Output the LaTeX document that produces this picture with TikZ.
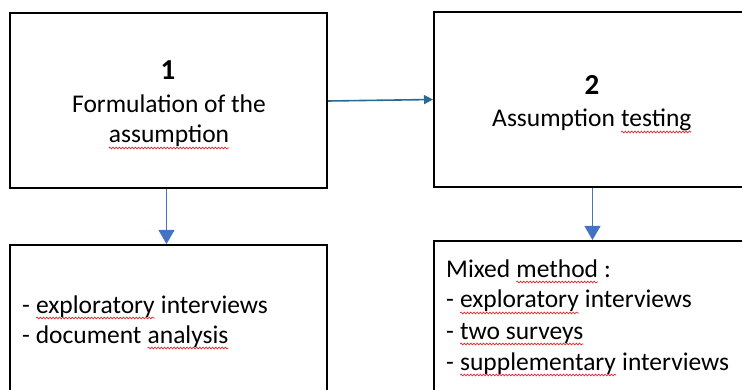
\documentclass[tikz,border=0pt]{standalone}
\usepackage{fontspec}
\setmainfont{Carlito}
\usetikzlibrary{arrows.meta,decorations.pathmorphing}
\definecolor{arrA}{HTML}{2A6A8C}
\definecolor{arrB}{HTML}{4472C4}
\definecolor{sqred}{HTML}{E8262B}
\newcommand\sq[1]{\tikz[baseline=(sqw.base)]{\node[inner sep=0pt,outer sep=0pt,anchor=base] (sqw) at (0,0) {#1};\draw[sqred,line width=0.7pt,decorate,decoration={snake,amplitude=0.9pt,segment length=3.2pt}] ([yshift=-5pt]sqw.base west) -- ([yshift=-5pt]sqw.base east);}}
\begin{document}
\begin{tikzpicture}[x=1pt,y=-1pt,
  box/.style={draw=black,line width=2pt,minimum width=317pt,minimum height=175pt,inner sep=0pt},
  txt/.style={inner sep=0pt,font=\fontsize{25.5}{31}\selectfont},
  num/.style={inner sep=0pt,font=\bfseries\fontsize{29}{35}\selectfont},
  downarr/.style={arrB,line width=1pt,-{Triangle[length=14pt,width=16pt]}}]
\useasboundingbox (0,0) rectangle (742,390);
\clip (0,0) rectangle (742,390);
\node[box] (b1) at (168.5,101) {};
\node[box] (b2) at (592.5,99.5) {};
\node[box] (b3) at (168.5,332.5) {};
\node[box] (b4) at (592.5,328.5) {};
\node[num,anchor=base] (n1) at (168,80) {1};
\node[txt,anchor=base] (t1a) at (169,113) {Formulation of the};
\node[txt,anchor=base] (t1b) at (169,143) {\sq{assumption}};
\node[num,anchor=base] (n2) at (592,95) {2};
\node[txt,anchor=base] (t2) at (592,127) {Assumption \sq{testing}};
\node[txt,anchor=base west] (t3a) at (22,313) {- \sq{exploratory} interviews};
\node[txt,anchor=base west] (t3b) at (22,343) {- document \sq{analysis}};
\node[txt,anchor=base west] (t4a) at (446,277) {Mixed \sq{method} :};
\node[txt,anchor=base west] (t4b) at (446,308) {- \sq{exploratory} interviews};
\node[txt,anchor=base west] (t4c) at (446,339) {- \sq{two surveys}};
\node[txt,anchor=base west] (t4d) at (446,370) {- \sq{supplementary} interviews};
\draw[arrA,line width=1.6pt,-{Triangle[length=9pt,width=9pt]}] (b1.east) -- (b2.west);
\draw[downarr] ([xshift=-2pt]b1.south) -- ([xshift=-2pt]b3.north);
\draw[downarr] (b2.south) -- (b4.north);
\end{tikzpicture}
\end{document}
